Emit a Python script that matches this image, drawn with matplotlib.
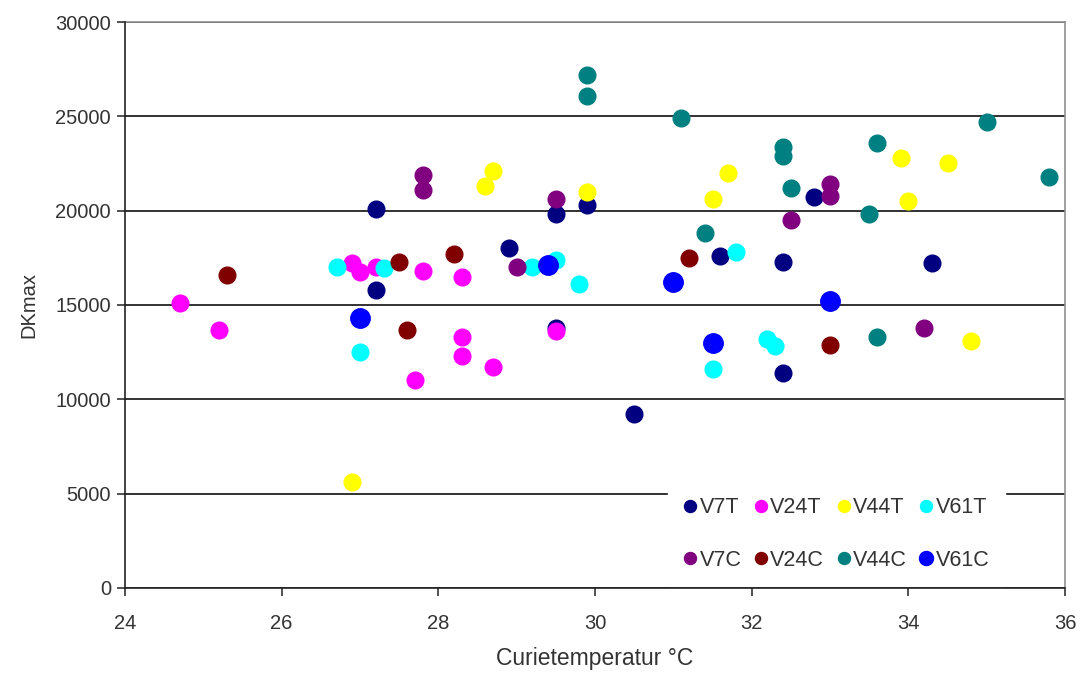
import matplotlib
matplotlib.use("Agg")
import matplotlib.pyplot as plt

plt.rcParams['font.family'] = ['Liberation Sans', 'DejaVu Sans']

# Curie temperature (°C) and DKmax per sample series
v7t_x = [27.2, 27.2, 28.9, 29.5, 29.5, 29.9, 30.5, 31.6, 32.4, 32.4, 32.8, 34.3]
v7t_y = [20100, 15800, 18000, 19800, 13800, 20300, 9200, 17600, 17300, 11400, 20700, 17200]

v24t_x = [24.7, 25.2, 26.9, 27.0, 27.2, 27.8, 27.7, 28.3, 28.3, 28.3, 28.7, 29.5]
v24t_y = [15100, 13700, 17200, 16750, 17000, 16800, 11000, 16500, 13300, 12300, 11700, 13600]

v44t_x = [26.9, 28.6, 28.7, 29.9, 31.5, 31.7, 33.9, 34.0, 34.5, 34.8]
v44t_y = [5600, 21300, 22100, 21000, 20600, 22000, 22800, 20500, 22500, 13100]

v61t_x = [26.7, 27.0, 27.3, 29.2, 29.5, 29.8, 31.5, 31.8, 32.2, 32.3]
v61t_y = [17000, 12500, 16950, 17000, 17400, 16100, 11600, 17800, 13200, 12800]

v7c_x = [27.8, 27.8, 29.0, 29.5, 32.5, 33.0, 33.0, 34.2]
v7c_y = [21900, 21100, 17000, 20600, 19500, 21400, 20800, 13800]

v24c_x = [25.3, 27.5, 27.6, 28.2, 31.2, 33.0]
v24c_y = [16600, 17300, 13700, 17700, 17500, 12900]

v44c_x = [29.9, 29.9, 31.1, 31.4, 32.4, 32.4, 32.5, 33.5, 33.6, 33.6, 35.0, 35.8]
v44c_y = [27200, 26100, 24900, 18800, 23400, 22900, 21200, 19800, 23600, 13300, 24700, 21800]

v61c_x = [27.0, 29.4, 31.0, 31.5, 33.0]
v61c_y = [14300, 17100, 16200, 13000, 15200]

series_names = ["V7T", "V24T", "V44T", "V61T", "V7C", "V24C", "V44C", "V61C"]
series_data = [(v7t_x, v7t_y), (v24t_x, v24t_y), (v44t_x, v44t_y), (v61t_x, v61t_y),
               (v7c_x, v7c_y), (v24c_x, v24c_y), (v44c_x, v44c_y), (v61c_x, v61c_y)]
series_colors = ["#000080", "#FF00FF", "#FFFF00", "#00FFFF",
                 "#800080", "#800000", "#008080", "#0000FF"]
series_sizes = [12, 12, 12, 12, 12, 12, 12, 14]

fig = plt.figure(figsize=(10.85, 6.77), dpi=100)
ax = fig.add_axes([0.1152, 0.1315, 0.8664, 0.836])

handles = {}
for name, (xs, ys), col, ms in zip(series_names, series_data, series_colors, series_sizes):
    h, = ax.plot(xs, ys, linestyle='none', marker='o', markersize=ms,
                 markerfacecolor=col, markeredgecolor=col, zorder=3)
    handles[name] = h

ax.set_xlim(24, 36)
ax.set_ylim(0, 30000)
ax.set_xticks(range(24, 37, 2))
ax.set_yticks(range(0, 30001, 5000))

ax.yaxis.grid(True, color='#222222', linewidth=1.3)
ax.set_axisbelow(True)

for side in ('top', 'right'):
    ax.spines[side].set_color('#909090')
    ax.spines[side].set_linewidth(1.2)
for side in ('left', 'bottom'):
    ax.spines[side].set_color('#222222')
    ax.spines[side].set_linewidth(1.2)
    ax.spines[side].set_zorder(6)

ax.tick_params(axis='both', direction='out', length=6, width=1.1,
               colors='#222222', labelsize=14.5, labelcolor='#333333')
ax.tick_params(axis='y', pad=4)
ax.tick_params(axis='x', pad=13)

ax.set_xlabel("Curietemperatur °C", fontsize=16.5, color='#333333', labelpad=10)
ax.set_ylabel("DKmax", fontsize=14.5, color='#333333', labelpad=12)

order = ["V7T", "V7C", "V24T", "V24C", "V44T", "V44C", "V61T", "V61C"]
leg = ax.legend([handles[n] for n in order], order, ncol=4,
                loc='lower left', bbox_to_anchor=(0.578, 0.004, 0.358, 0.178),
                mode='expand', frameon=True, fancybox=False, framealpha=1.0,
                facecolor='white', edgecolor='white', fontsize=15.5,
                markerscale=0.72, handlelength=0.6, handletextpad=0.15,
                columnspacing=0.6, labelspacing=1.45, borderpad=0.7,
                borderaxespad=0.0)
for t in leg.get_texts():
    t.set_color('#333333')
leg.set_zorder(5)

fig.savefig("out.png", dpi=100)
